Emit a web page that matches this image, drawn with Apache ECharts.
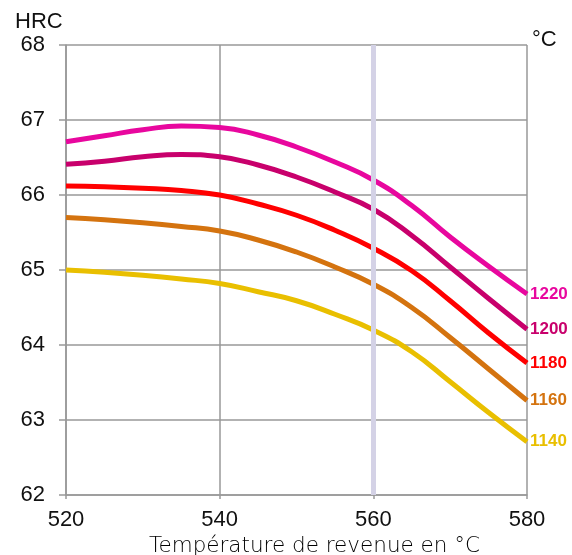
<!DOCTYPE html>
<html><head><meta charset="utf-8">
<script src="https://cdn.jsdelivr.net/npm/echarts@6/dist/echarts.min.js"></script>
<style>html,body{margin:0;padding:0;background:#fff}#c{width:572px;height:555px}</style>
</head><body><div id="c"></div>
<script>
const temps = [520,525,530,535,540,545,550,555,560,565,570,575,580];
const s1220 = [66.71,66.79,66.87,66.92,66.90,66.80,66.64,66.44,66.20,65.86,65.44,65.05,64.68];
const s1200 = [66.41,66.45,66.51,66.54,66.51,66.40,66.24,66.04,65.81,65.46,65.04,64.62,64.21];
const s1180 = [66.12,66.11,66.09,66.06,66.00,65.88,65.73,65.53,65.29,64.99,64.59,64.16,63.76];
const s1160 = [65.70,65.67,65.63,65.58,65.52,65.40,65.24,65.04,64.81,64.50,64.10,63.68,63.26];
const s1140 = [65.00,64.97,64.93,64.88,64.82,64.71,64.59,64.41,64.20,63.91,63.51,63.10,62.71];
const seriesNames = ['1220','1200','1180','1160','1140'];
const seriesData = [s1220,s1200,s1180,s1160,s1140];
const colors = ['#e8079e','#c8006c','#ff0000','#d4730f','#e9bf00'];
const markTemp = 560;

const chart = echarts.init(document.getElementById('c'), null, {renderer:'canvas'});
const series = seriesNames.map((n,i)=>({
  name:n, type:'line', smooth:0.5, symbol:'none',
  data: temps.map((t,j)=>[t, seriesData[i][j]]),
  lineStyle:{color:colors[i], width:5},
  itemStyle:{color:colors[i]},
  z:3,
  endLabel:{show:true, formatter:n, color:colors[i], fontFamily:'Liberation Sans, Arial', fontWeight:'bold', fontSize:17, distance:3}
}));
series.push({
  type:'line', data:[], z:10,
  markLine:{silent:true, symbol:'none', label:{show:false},
    lineStyle:{color:'#d4d2e6', width:5, type:'solid'},
    data:[{xAxis:markTemp}]}
});
chart.setOption({
  animation:false,
  grid:{left:66, right:45, top:45, bottom:60, outerBoundsMode:'none', containLabel:false},
  xAxis:{type:'value', min:520, max:580, interval:20,
    name:'Température de revenue en °C', nameLocation:'middle', nameGap:40,
    nameTextStyle:{fontFamily:'DejaVu Sans', fontWeight:300, fontSize:21.5, color:'#000', padding:[0,0,0,36]},
    axisLine:{show:true, lineStyle:{color:'#999', width:1.5}},
    axisTick:{show:true, length:4, lineStyle:{color:'#999', width:1.5}},
    axisLabel:{fontFamily:'Liberation Sans, Arial', fontSize:22, color:'#111', margin:14},
    splitLine:{show:true, lineStyle:{color:'#999', width:1.5}}},
  yAxis:{type:'value', min:62, max:68, interval:1,
    axisLine:{show:true, lineStyle:{color:'#999', width:1.5}},
    axisTick:{show:true, length:7, lineStyle:{color:'#999', width:1.5}},
    axisLabel:{fontFamily:'Liberation Sans, Arial', fontSize:22, color:'#111', margin:21},
    splitLine:{show:true, lineStyle:{color:'#999', width:1.5}}},
  graphic:[
    {type:'text', left:15, top:11, style:{text:'HRC', font:'22px "Liberation Sans", Arial', fill:'#111'}},
    {type:'text', left:532, top:29, style:{text:'°C', font:'22px "Liberation Sans", Arial', fill:'#111'}}
  ],
  series: series
});
</script></body></html>
